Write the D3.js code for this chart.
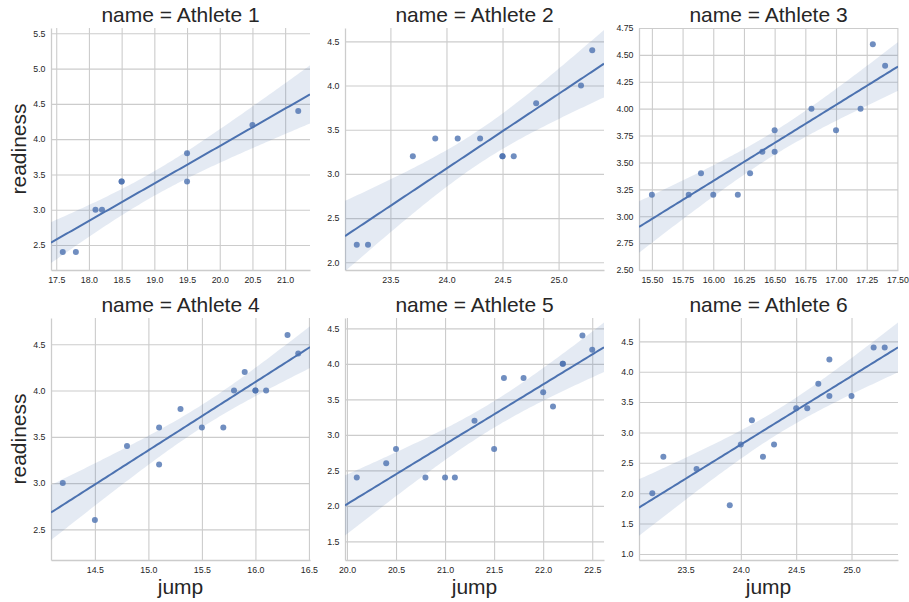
<!DOCTYPE html>
<html>
<head>
<meta charset="utf-8">
<script src="https://cdn.jsdelivr.net/npm/d3@7"></script>
<style>
  body { margin: 0; background: #fff; }
  svg { display: block; font-family: "Liberation Sans", Arial, sans-serif; }
</style>
</head>
<body>
<svg id="drawing_region"></svg>
<script>
// values
const athletes = ["Athlete 1", "Athlete 2", "Athlete 3", "Athlete 4", "Athlete 5", "Athlete 6"];

const jump1 = [17.6, 17.8, 18.1, 18.2, 18.5, 18.5, 19.5, 19.5, 20.5, 21.2];
const readiness1 = [2.4, 2.4, 3.0, 3.0, 3.4, 3.4, 3.8, 3.4, 4.2, 4.4];

const jump2 = [23.2, 23.3, 23.7, 23.9, 24.1, 24.3, 24.5, 24.5, 24.6, 24.8, 25.2, 25.3];
const readiness2 = [2.2, 2.2, 3.2, 3.4, 3.4, 3.4, 3.2, 3.2, 3.2, 3.8, 4.0, 4.4];

const jump3 = [15.5, 15.8, 15.9, 16.0, 16.2, 16.3, 16.4, 16.5, 16.5, 16.8, 17.0, 17.2, 17.3, 17.4];
const readiness3 = [3.2, 3.2, 3.4, 3.2, 3.2, 3.4, 3.6, 3.8, 3.6, 4.0, 3.8, 4.0, 4.6, 4.4];

const jump4 = [14.2, 14.5, 14.8, 15.1, 15.1, 15.3, 15.5, 15.7, 15.8, 15.9, 16.0, 16.0, 16.1, 16.3, 16.4];
const readiness4 = [3.0, 2.6, 3.4, 3.6, 3.2, 3.8, 3.6, 3.6, 4.0, 4.2, 4.0, 4.0, 4.0, 4.6, 4.4];

const jump5 = [20.1, 20.4, 20.5, 20.8, 21.0, 21.1, 21.3, 21.5, 21.6, 21.8, 22.0, 22.1, 22.2, 22.2, 22.4, 22.5];
const readiness5 = [2.4, 2.6, 2.8, 2.4, 2.4, 2.4, 3.2, 2.8, 3.8, 3.8, 3.6, 3.4, 4.0, 4.0, 4.4, 4.2];

const jump6 = [23.2, 23.3, 23.6, 23.9, 24.0, 24.1, 24.2, 24.3, 24.5, 24.6, 24.7, 24.8, 24.8, 25.0, 25.2, 25.3];
const readiness6 = [2.0, 2.6, 2.4, 1.8, 2.8, 3.2, 2.6, 2.8, 3.4, 3.4, 3.8, 4.2, 3.6, 3.6, 4.4, 4.4];

const jumps = [jump1, jump2, jump3, jump4, jump5, jump6];
const readinesses = [readiness1, readiness2, readiness3, readiness4, readiness5, readiness6];

// axis limits of each facet
const xLimits = [[17.42, 21.38], [23.095, 25.405], [15.395, 17.505], [14.09, 16.51], [19.98, 22.62], [23.08, 25.42]];
const yLimits = [[2.146, 5.575], [1.913, 4.651], [2.5, 4.75], [2.169, 4.784], [1.237, 4.646], [0.9, 4.884]];

const xTicks = [
    [17.5, 18.0, 18.5, 19.0, 19.5, 20.0, 20.5, 21.0],
    [23.5, 24.0, 24.5, 25.0],
    [15.5, 15.75, 16.0, 16.25, 16.5, 16.75, 17.0, 17.25, 17.5],
    [14.5, 15.0, 15.5, 16.0, 16.5],
    [20.0, 20.5, 21.0, 21.5, 22.0, 22.5],
    [23.5, 24.0, 24.5, 25.0]
];
const yTicks = [
    [2.5, 3.0, 3.5, 4.0, 4.5, 5.0, 5.5],
    [2.0, 2.5, 3.0, 3.5, 4.0, 4.5],
    [2.5, 2.75, 3.0, 3.25, 3.5, 3.75, 4.0, 4.25, 4.5, 4.75],
    [2.5, 3.0, 3.5, 4.0, 4.5],
    [1.5, 2.0, 2.5, 3.0, 3.5, 4.0, 4.5],
    [1.0, 1.5, 2.0, 2.5, 3.0, 3.5, 4.0, 4.5]
];
const tickDecimals = [1, 1, 2, 1, 1, 1];

// two-sided 95% t values by degrees of freedom
const tTable = {8: 2.306, 9: 2.262, 10: 2.228, 11: 2.201, 12: 2.179, 13: 2.160, 14: 2.145, 15: 2.131};

const config = {
    width: 909,
    height: 602,
    left: 51,
    top: 28,
    colStep: 294,
    rowStep: 290,
    panelWidth: 259,
    panelHeight: 242
};

const blue = '#4C72B0';
const gridColor = '#cccccc';
const textColor = '#262626';

const svg = d3.select('#drawing_region')
    .attr('width', config.width)
    .attr('height', config.height);

// ordinary least squares fit with a 95% band for the mean
function fit(xs, ys) {
    const n = xs.length;
    const xbar = d3.mean(xs), ybar = d3.mean(ys);
    let sxx = 0, sxy = 0;
    xs.forEach((x, i) => { sxx += (x - xbar) ** 2; sxy += (x - xbar) * (ys[i] - ybar); });
    const b = sxy / sxx;
    const a = ybar - b * xbar;
    let sse = 0;
    xs.forEach((x, i) => { sse += (ys[i] - a - b * x) ** 2; });
    const s = Math.sqrt(sse / (n - 2));
    const t = tTable[n - 2] || 2.1;
    return x => {
        const yhat = a + b * x;
        const half = t * s * Math.sqrt(1 / n + (x - xbar) ** 2 / sxx);
        return {x: x, y: yhat, lo: yhat - half, hi: yhat + half};
    };
}

athletes.forEach((name, i) => {
    const col = i % 3, row = Math.floor(i / 3);
    const w = config.panelWidth, h = config.panelHeight;
    const g = svg.append('g')
        .attr('transform', `translate(${config.left + col * config.colStep}, ${config.top + row * config.rowStep})`);

    const xscale = d3.scaleLinear().domain(xLimits[i]).range([0, w]);
    const yscale = d3.scaleLinear().domain(yLimits[i]).range([h, 0]);
    const fmt = d3.format(`.${tickDecimals[i]}f`);

    const xaxis = d3.axisBottom(xscale)
        .tickValues(xTicks[i])
        .tickFormat(fmt)
        .tickSize(-h)
        .tickSizeOuter(0)
        .tickPadding(7);
    const yaxis = d3.axisLeft(yscale)
        .tickValues(yTicks[i])
        .tickFormat(fmt)
        .tickSize(-w)
        .tickSizeOuter(0)
        .tickPadding(5.5);

    const xg = g.append('g').attr('transform', `translate(0, ${h})`).call(xaxis);
    const yg = g.append('g').call(yaxis);
    [xg, yg].forEach(ax => {
        ax.selectAll('.tick line').attr('stroke', gridColor).attr('stroke-width', 1.1);
        ax.select('.domain').attr('stroke', gridColor).attr('stroke-width', 1.3);
        ax.selectAll('text')
            .attr('fill', textColor)
            .style('font-size', '8.8px')
            .style('font-family', '"Liberation Sans", Arial, sans-serif');
    });

    const clipId = `clip${i}`;
    g.append('clipPath').attr('id', clipId)
        .append('rect').attr('width', w).attr('height', h);

    const model = fit(jumps[i], readinesses[i]);
    const grid = d3.range(101).map(k => model(xLimits[i][0] + (xLimits[i][1] - xLimits[i][0]) * k / 100));

    const plot = g.append('g').attr('clip-path', `url(#${clipId})`);

    plot.append('path')
        .datum(grid)
        .attr('fill', blue)
        .attr('fill-opacity', 0.15)
        .attr('d', d3.area()
            .x(d => xscale(d.x))
            .y0(d => yscale(d.lo))
            .y1(d => yscale(d.hi)));

    plot.append('path')
        .datum(grid)
        .attr('fill', 'none')
        .attr('stroke', blue)
        .attr('stroke-width', 2)
        .attr('d', d3.line()
            .x(d => xscale(d.x))
            .y(d => yscale(d.y)));

    plot.selectAll('circle')
        .data(jumps[i].map((x, k) => ({x: x, y: readinesses[i][k]})))
        .enter()
        .append('circle')
        .attr('cx', d => xscale(d.x))
        .attr('cy', d => yscale(d.y))
        .attr('r', 3)
        .attr('fill', blue)
        .attr('fill-opacity', 0.8);

    //Title
    g.append('text')
        .attr('x', w / 2)
        .attr('y', -6)
        .attr('text-anchor', 'middle')
        .attr('fill', textColor)
        .style('font-size', '21px')
        .text(`name = ${name}`);

    //Ylabel
    if (col === 0) {
        g.append('text')
            .attr('transform', `translate(-25, ${h / 2}) rotate(-90)`)
            .attr('text-anchor', 'middle')
            .attr('fill', textColor)
            .style('font-size', '21px')
            .text('readiness');
    }

    //Xlabel
    if (row === 1) {
        g.append('text')
            .attr('x', w / 2)
            .attr('y', h + 34)
            .attr('text-anchor', 'middle')
            .attr('fill', textColor)
            .style('font-size', '21px')
            .text('jump');
    }
});
</script>
</body>
</html>
